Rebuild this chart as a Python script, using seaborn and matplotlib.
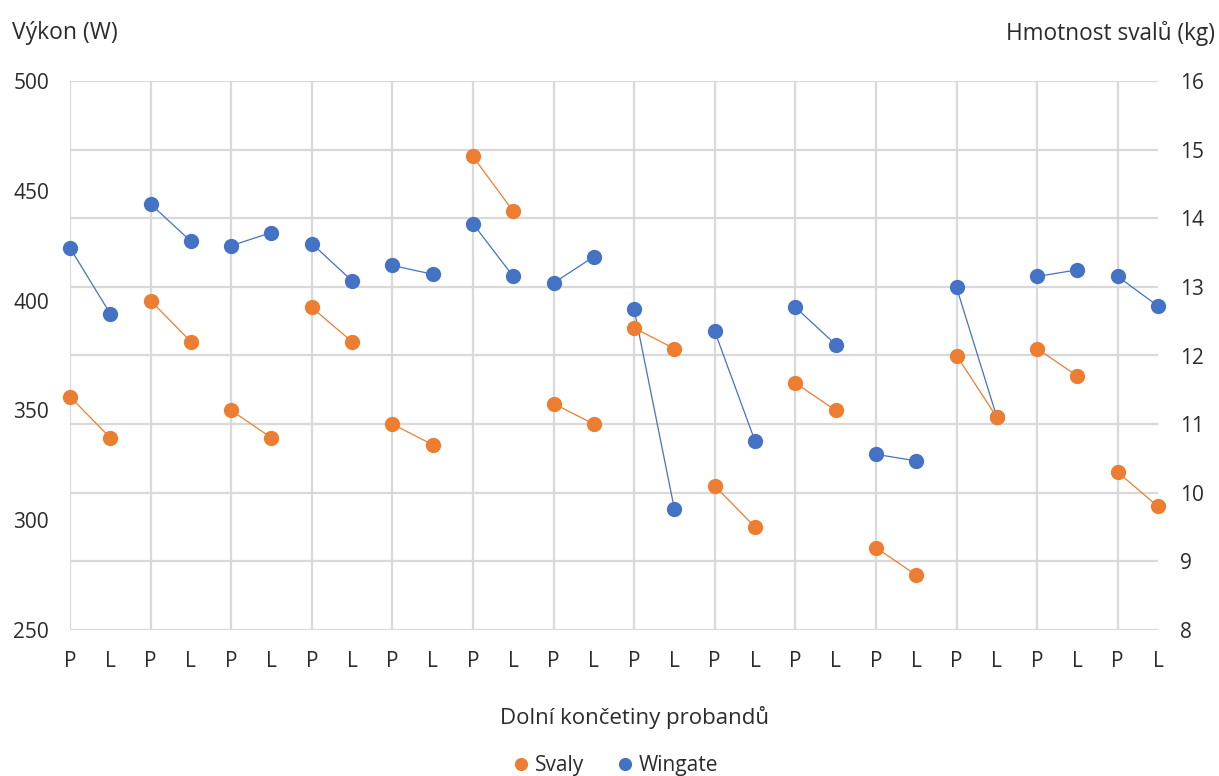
import numpy as np
import pandas as pd
import seaborn as sns
import matplotlib.pyplot as plt
from matplotlib.ticker import FixedLocator
from matplotlib.lines import Line2D

# Legs of each subject: right (P) and left (L)
sides = ["P", "L"] * 14

# Wingate test power output (W)
wingate = [424, 394, 444, 427, 425, 431, 426, 409, 416, 412, 435, 411, 408, 420,
           396, 305, 386, 336, 397, 380, 330, 327, 406, 347, 411, 414, 411, 397.5]

# Leg muscle mass (kg)
svaly = [11.4, 10.8, 12.8, 12.2, 11.2, 10.8, 12.7, 12.2, 11.0, 10.7, 14.9, 14.1, 11.3, 11.0,
         12.4, 12.1, 10.1, 9.5, 11.6, 11.2, 9.2, 8.8, 12.0, 11.1, 12.1, 11.7, 10.3, 9.8]

power_ticks = [250, 300, 350, 400, 450, 500]
mass_ticks = [8, 9, 10, 11, 12, 13, 14, 15, 16]

ORANGE = "#ED7D31"
BLUE = "#4472C4"
GRID = "#D9D9D9"
TEXT = "#2B2B2B"

sns.set_theme(style="white")
plt.rcParams["font.family"] = ["Open Sans", "DejaVu Sans"]

df = pd.DataFrame({
    "pos": np.arange(len(sides)),
    "pair": np.arange(len(sides)) // 2,
    "Wingate": wingate,
    "Svaly": svaly,
})

fig = plt.figure(figsize=(12.19, 7.76), dpi=100)
ax = fig.add_axes([70 / 1219, 1 - 630 / 776, 1088 / 1219, 549 / 776])
ax2 = ax.twinx()

line_kw = dict(units="pair", estimator=None, marker="o", markersize=11,
               markeredgewidth=0, linewidth=0.9, legend=False)
sns.lineplot(data=df, x="pos", y="Wingate", color=BLUE, ax=ax, **line_kw)
sns.lineplot(data=df, x="pos", y="Svaly", color=ORANGE, ax=ax2, **line_kw)
for ln in ax.lines + ax2.lines:
    ln.set_clip_on(False)
    ln.set_zorder(3)

# Axes limits and ticks
ax.set_xlim(0, len(sides) - 1)
ax.set_ylim(power_ticks[0], power_ticks[-1])
ax2.set_ylim(mass_ticks[0], mass_ticks[-1])
ax.set_xticks(df["pos"])
ax.set_xticklabels(sides)
ax.set_yticks(power_ticks)
ax2.set_yticks(mass_ticks)

# Horizontal gridlines follow the mass scale (one per kg)
ax.yaxis.set_minor_locator(FixedLocator(np.linspace(power_ticks[0], power_ticks[-1], len(mass_ticks))))
ax.yaxis.remove_overlapping_locs = False
ax.grid(which="minor", axis="y", color=GRID, linewidth=1.6, zorder=0)
ax.grid(False, which="major")
ax2.grid(False)
# Vertical gridlines at the start of each subject pair
for x in df["pos"][::2]:
    ax.axvline(x, color=GRID, linewidth=1.6, zorder=0)

for a in (ax, ax2):
    for s in a.spines.values():
        s.set_visible(False)
    a.tick_params(which="both", length=0, labelsize=15, labelcolor=TEXT)
ax.tick_params(axis="y", pad=15)
ax.tick_params(axis="x", pad=15)
ax2.tick_params(axis="y", pad=16)

ax.set_xlabel("Dolní končetiny probandů", fontsize=16, color=TEXT)
ax.xaxis.set_label_coords(0.519, -0.138)
ax.set_ylabel("Výkon (W)", fontsize=16.5, color=TEXT, rotation=0, ha="left", va="center")
ax.yaxis.set_label_coords(-0.053, 1.087)
ax2.set_ylabel("Hmotnost svalů (kg)", fontsize=16.3, color=TEXT, rotation=0, ha="right", va="center")
ax2.yaxis.set_label_coords(1.052, 1.087)

handles = [Line2D([], [], marker="o", linestyle="", color=ORANGE, markersize=9.5, markeredgewidth=0),
           Line2D([], [], marker="o", linestyle="", color=BLUE, markersize=9.5, markeredgewidth=0)]
fig.legend(handles, ["Svaly", "Wingate"], loc="center", bbox_to_anchor=(616 / 1219, 0.013),
           ncol=2, frameon=False, handlelength=0.7, handletextpad=0.3, columnspacing=1.6,
           fontsize=15, labelcolor=TEXT, borderpad=0)

fig.savefig("out.png", dpi=100)
